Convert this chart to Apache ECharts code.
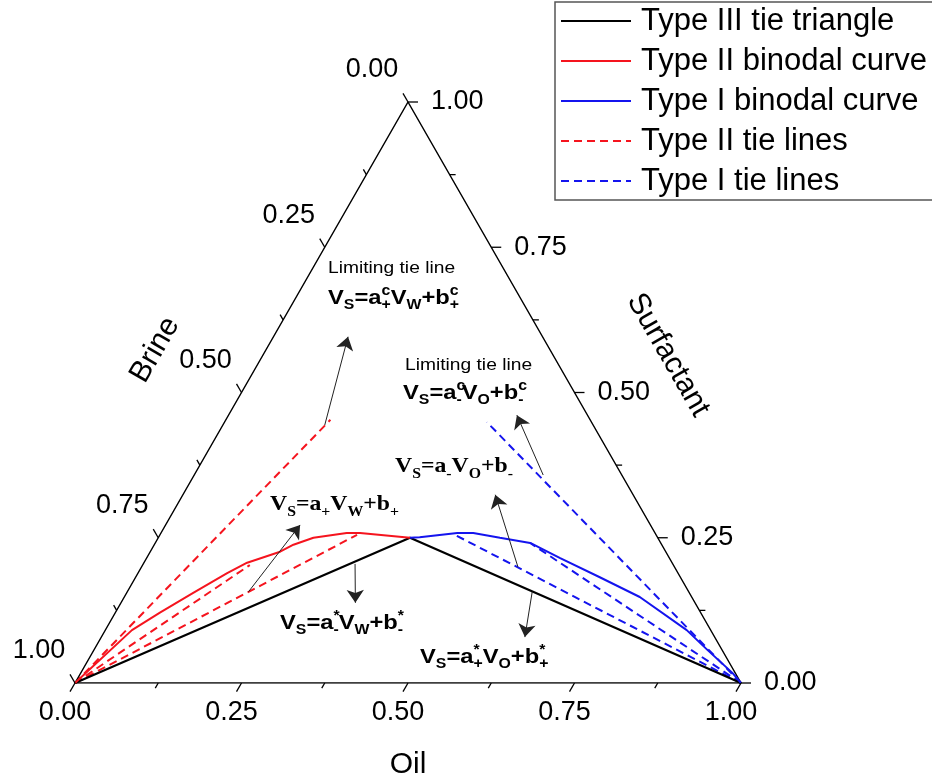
<!DOCTYPE html>
<html>
<head>
<meta charset="utf-8">
<title>Ternary phase diagram</title>
<script src="https://cdn.jsdelivr.net/npm/echarts@6/dist/echarts.min.js"></script>
<style>
  html, body { margin: 0; padding: 0; background: #fff; }
  #chart { width: 932px; height: 782px; }
</style>
</head>
<body>
<div id="chart"></div>
<script>
// compositions are [oil, surfactant] fractions, brine = 1 - oil - surfactant
const tickValues = [0, 0.125, 0.25, 0.375, 0.5, 0.625, 0.75, 0.875, 1];
const tickLabels = ['0.00', '', '0.25', '', '0.50', '', '0.75', '', '1.00'];

const typeIIITriangle = [[0, 0], [0.378, 0.25], [1, 0]];
const typeIIBinodal = [
  [0, 0], [0.040, 0.091], [0.067, 0.121], [0.100, 0.155], [0.134, 0.189],
  [0.155, 0.207], [0.195, 0.226], [0.209, 0.238], [0.233, 0.250],
  [0.279, 0.258], [0.299, 0.258], [0.378, 0.250]
];
const typeIBinodal = [
  [0.378, 0.250], [0.392, 0.251], [0.445, 0.258], [0.469, 0.258], [0.513, 0.250],
  [0.563, 0.241], [0.621, 0.215], [0.697, 0.182], [0.774, 0.148], [0.873, 0.091],
  [0.921, 0.057], [0.979, 0.017], [1, 0]
];
const typeIITieLines = [
  [[0, 0], [0.157, 0.453]],
  [[0, 0], [0.161, 0.203]],
  [[0, 0], [0.296, 0.255]]
];
const typeITieLines = [
  [[1, 0], [0.394, 0.449]],
  [[1, 0], [0.443, 0.255]],
  [[1, 0], [0.563, 0.241]]
];
// [from, to] of the annotation arrows
const arrows = [
  [[0.153, 0.444], [0.112, 0.596]],
  [[0.524, 0.358], [0.433, 0.461]],
  [[0.565, 0.200], [0.469, 0.324]],
  [[0.182, 0.157], [0.202, 0.272]],
  [[0.318, 0.205], [0.352, 0.138]],
  [[0.608, 0.157], [0.636, 0.079]]
];

const FONT = 'Liberation Sans, Arial, sans-serif';
const SERIF = 'Liberation Serif, Times New Roman, serif';
const RED = '#f5141e';
const BLUE = '#1414ee';

// ternary -> cartesian (x along oil edge, y = surfactant height)
function toXY(p) {
  return [p[0] + p[1] / 2, p[1]];
}

const AXES = [
  { point: v => [v, 0], dir: [-0.5, 0.866], label: [-10, 30], align: 'center' },      // oil
  { point: v => [1 - v, v], dir: [1, 0], label: [23, 0], align: 'left' },              // surfactant
  { point: v => [0, 1 - v], dir: [-0.5, -0.866], label: [-36, -32], align: 'center' }  // brine
];

const tickData = [];
AXES.forEach((a, ai) => tickValues.forEach((v, ti) => tickData.push([ai, ti])));

function renderTick(params, api) {
  const a = AXES[api.value(0)];
  const i = api.value(1);
  const major = tickLabels[i] !== '';
  const p = api.coord(toXY(a.point(tickValues[i])));
  const len = major ? 10 : 6;
  const children = [{
    type: 'line',
    shape: { x1: p[0], y1: p[1], x2: p[0] + a.dir[0] * len, y2: p[1] + a.dir[1] * len },
    style: { stroke: '#000', lineWidth: 1.3 }
  }];
  if (major) {
    children.push({
      type: 'text',
      x: p[0] + a.label[0],
      y: p[1] + a.label[1],
      style: {
        text: tickLabels[i], fontSize: 27, fontFamily: FONT, fill: '#000',
        align: a.align, verticalAlign: 'middle'
      }
    });
  }
  return { type: 'group', children: children };
}

// 'V_S=a^c_+' -> rich text, ^x is stacked over the following _y
function richFormula(spec) {
  let out = '', buf = '';
  const flush = () => { if (buf) { out += '{m|' + buf + '}'; buf = ''; } };
  for (let i = 0; i < spec.length; i++) {
    const c = spec[i];
    if (c === '_' || c === '^') {
      flush();
      out += '{' + (c === '_' ? 'sub' : 'sup') + '|' + spec[i + 1] + '}';
      i++;
    } else {
      buf += c;
    }
  }
  flush();
  return out;
}

function richSet(family) {
  return {
    m: { fontSize: 21, fontWeight: 'bold', fontFamily: family, lineHeight: 28, fill: '#000' },
    sub: { fontSize: 14, fontWeight: 'bold', fontFamily: family, lineHeight: 14, verticalAlign: 'bottom', fill: '#000' },
    sup: { fontSize: 14, fontWeight: 'bold', fontFamily: family, lineHeight: 14, verticalAlign: 'top', width: 0, fill: '#000' }
  };
}

const notes = [
  { x: 328, y: 268, text: 'Limiting tie line' },
  { x: 328, y: 298, formula: 'V_S=a^c_+V_W+b^c_+', family: FONT },
  { x: 405, y: 365, text: 'Limiting tie line' },
  { x: 403, y: 393, formula: 'V_S=a^c_-V_O+b^c_-', family: FONT },
  { x: 395, y: 467, formula: 'V_S=a_-V_O+b_-', family: SERIF },
  { x: 270, y: 505, formula: 'V_S=a_+V_W+b_+', family: SERIF },
  { x: 280, y: 623, formula: 'V_S=a^*_-V_W+b^*_-', family: FONT },
  { x: 420, y: 657, formula: 'V_S=a^*_+V_O+b^*_+', family: FONT }
];

const graphics = notes.map(n => ({
  type: 'text',
  x: n.x,
  y: n.y,
  scaleX: 1.13,
  style: n.formula
    ? { text: richFormula(n.formula), rich: richSet(n.family), verticalAlign: 'middle', align: 'left' }
    : { text: n.text, fontSize: 17, fontFamily: FONT, fill: '#000', verticalAlign: 'middle', align: 'left' }
}));
graphics.push(
  { type: 'text', x: 155, y: 350, rotation: Math.PI / 3,
    style: { text: 'Brine', fontSize: 30, fontFamily: FONT, fill: '#000', align: 'center', verticalAlign: 'middle' } },
  { type: 'text', x: 668, y: 355, rotation: -Math.PI / 3,
    style: { text: 'Surfactant', fontSize: 30, fontFamily: FONT, fill: '#000', align: 'center', verticalAlign: 'middle' } },
  { type: 'text', x: 408, y: 765,
    style: { text: 'Oil', fontSize: 30, fontFamily: FONT, fill: '#000', align: 'center', verticalAlign: 'middle' } }
);

function lineSeries(name, points, color, width, dashed) {
  return {
    name: name,
    type: 'line',
    data: points.map(toXY),
    symbol: 'none',
    silent: true,
    itemStyle: { color: color },
    lineStyle: { color: color, width: width, type: dashed ? [8, 5] : 'solid' },
    z: dashed ? 2 : 3
  };
}

const series = [
  lineSeries('frame', [[0, 0], [1, 0], [0, 1], [0, 0]], '#000', 1.5, false),
  lineSeries('Type III tie triangle', typeIIITriangle, '#000', 2.2, false),
  lineSeries('Type II binodal curve', typeIIBinodal, RED, 2, false),
  lineSeries('Type I binodal curve', typeIBinodal, BLUE, 2, false)
];
typeIITieLines.forEach(l => series.push(lineSeries('Type II tie lines', l, RED, 2, true)));
typeITieLines.forEach(l => series.push(lineSeries('Type I tie lines', l, BLUE, 2, true)));
series.push({
  type: 'lines',
  coordinateSystem: 'cartesian2d',
  silent: true,
  symbol: ['none', 'arrow'],
  symbolSize: 13,
  lineStyle: { color: '#222', width: 1, opacity: 1 },
  data: arrows.map(a => ({ coords: a.map(toXY) })),
  z: 5
});
series.push({
  type: 'custom',
  coordinateSystem: 'cartesian2d',
  clip: false,
  silent: true,
  data: tickData,
  renderItem: renderTick,
  z: 4
});

const chart = echarts.init(document.getElementById('chart'));
chart.setOption({
  animation: false,
  backgroundColor: '#fff',
  grid: { left: 75, top: 102, width: 666, height: 581, containLabel: false, outerBoundsMode: 'none' },
  xAxis: { type: 'value', min: 0, max: 1, show: false },
  yAxis: { type: 'value', min: 0, max: 1, show: false },
  legend: {
    data: ['Type III tie triangle', 'Type II binodal curve', 'Type I binodal curve', 'Type II tie lines', 'Type I tie lines'],
    orient: 'vertical',
    left: 555,
    top: 2,
    padding: [0, 20, 0, 5],
    itemGap: 2,
    itemWidth: 70,
    itemHeight: 14,
    borderColor: '#555',
    borderWidth: 1.5,
    backgroundColor: '#fff',
    selectedMode: false,
    itemStyle: { opacity: 0 },
    textStyle: { fontSize: 31, fontFamily: FONT, color: '#000', lineHeight: 38, padding: [0, 0, 0, 5] }
  },
  graphic: graphics,
  series: series
});
</script>
</body>
</html>
